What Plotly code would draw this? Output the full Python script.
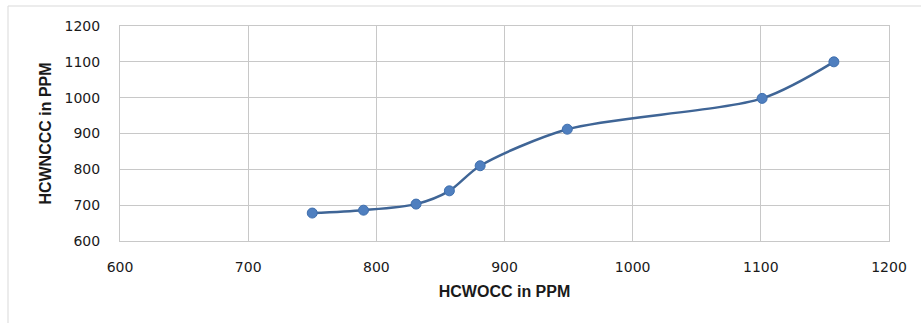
import plotly.graph_objects as go

hcwocc = [750, 790, 831, 857, 881, 949, 1101, 1157]
hcwnccc = [678, 686, 703, 740, 810, 912, 998, 1100]

x_ticks = [600, 700, 800, 900, 1000, 1100, 1200]
y_ticks = [600, 700, 800, 900, 1000, 1100, 1200]

fig = go.Figure()
fig.add_trace(go.Scatter(
    x=hcwocc, y=hcwnccc, mode="lines+markers",
    line=dict(color="#3f6596", width=2.5, shape="spline", smoothing=0.8),
    marker=dict(color="#4f7fbf", size=10, line=dict(color="#3f6fae", width=1)),
    showlegend=False,
))

grid = "#c8c8c8"
tickfont = dict(family="DejaVu Sans", size=14, color="#1a1a1a")
fig.update_layout(
    width=921, height=323,
    margin=dict(l=120, r=32, t=26, b=82),
    paper_bgcolor="white", plot_bgcolor="white",
    xaxis=dict(range=[600, 1200], tickvals=x_ticks, ticktext=[str(v) for v in x_ticks],
               showgrid=True, gridcolor=grid, gridwidth=1,
               showline=True, linecolor=grid, mirror=True, zeroline=False,
               ticks="", ticklabelstandoff=13, tickfont=tickfont,
               title=dict(text="<b>HCWOCC in PPM</b>", standoff=12,
                          font=dict(family="Liberation Sans", size=16, color="#1a1a1a"))),
    yaxis=dict(range=[600, 1200], tickvals=y_ticks, ticktext=[str(v) for v in y_ticks],
               showgrid=True, gridcolor=grid, gridwidth=1,
               showline=True, linecolor=grid, mirror=True, zeroline=False,
               ticks="", ticklabelstandoff=16, tickfont=tickfont,
               title=dict(text="<b>HCWNCCC in PPM</b>", standoff=8,
                          font=dict(family="Liberation Sans", size=16, color="#1a1a1a"))),
)

fig.add_shape(type="rect", xref="paper", yref="paper",
              x0=(8 - 120) / 769, x1=(930 - 120) / 769,
              y0=(241 - 330) / 215, y1=(241 - 6) / 215,
              line=dict(color="#d9d9d9", width=1), fillcolor="rgba(0,0,0,0)", layer="below")

fig.write_html("out.html")
